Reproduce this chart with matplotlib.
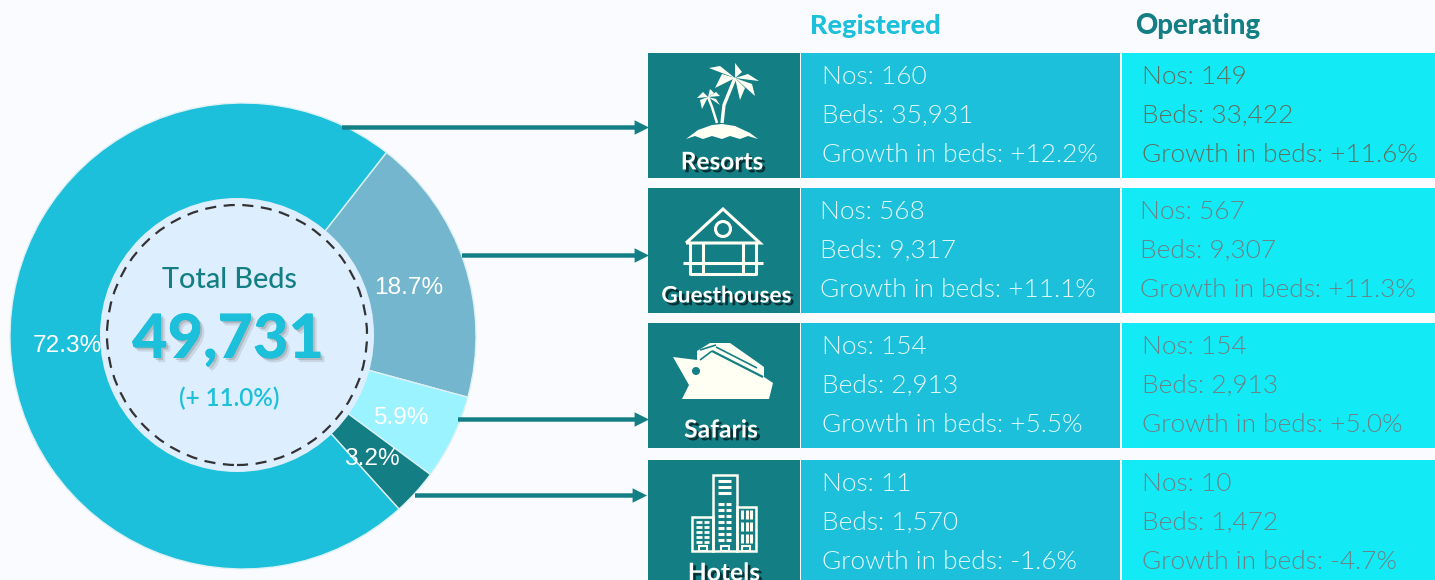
import numpy as np
import matplotlib
matplotlib.use("Agg")
import matplotlib.pyplot as plt
import matplotlib.patheffects as pe
from matplotlib.patches import Circle, Polygon, Rectangle, FancyArrowPatch

# Data
categories = ["Resorts", "Guesthouses", "Safaris", "Hotels"]
share_order = ["Guesthouses", "Safaris", "Hotels", "Resorts"]
share_values = [18.7, 5.9, 3.2, 72.3]
share_labels = ["18.7%", "5.9%", "3.2%", "72.3%"]
share_colors = ["#74b6cd", "#9bf3ff", "#137f85", "#1cc0da"]

reg_nos = ["160", "568", "154", "11"]
reg_beds = ["35,931", "9,317", "2,913", "1,570"]
reg_growth = ["+12.2%", "+11.1%", "+5.5%", "-1.6%"]
op_nos = ["149", "567", "154", "10"]
op_beds = ["33,422", "9,307", "2,913", "1,472"]
op_growth = ["+11.6%", "+11.3%", "+5.0%", "-4.7%"]

TEAL = "#137f85"
CYAN = "#1cc0da"
BRIGHT = "#12ebf6"
BG = "#fafbff"
CREAM = "#fffff4"
H = 580

plt.rcParams["font.family"] = ["Lato", "DejaVu Sans"]

fig = plt.figure(figsize=(14.35, 5.8), dpi=100, facecolor=BG)
ax = fig.add_axes([0, 0, 1, 1])


# everything below is placed in picture pixels, y measured from the top
def Y(y):
    return H - y


def poly(pts, **kw):
    kw.setdefault("fc", CREAM)
    kw.setdefault("ec", "none")
    kw.setdefault("zorder", 5)
    ax.add_patch(Polygon([(a, Y(b)) for a, b in pts], closed=True, **kw))


def line(pts, lw=2.2, color=CREAM, zorder=5):
    ax.plot([a for a, b in pts], [Y(b) for a, b in pts], color=color, lw=lw,
            solid_capstyle="butt", solid_joinstyle="miter", zorder=zorder)


def box(x0, y0, x1, y1, color):
    ax.add_patch(Rectangle((x0, Y(y1)), x1 - x0, y1 - y0, fc=color, ec="none", zorder=1))


# Donut
cx, cy, radius = 243, 336, 233
ax.pie(share_values, colors=share_colors, startangle=52, counterclock=False,
       center=(cx, Y(cy)), radius=radius,
       wedgeprops=dict(edgecolor="#dcf1f6", linewidth=1.0))
ax.set_xlim(0, 1435)
ax.set_ylim(0, H)
ax.set_aspect("auto")
ax.axis("off")

ax.add_patch(Circle((237, Y(335)), 137, fc="#ddeeff", ec="none", zorder=3))
ax.add_patch(Circle((237, Y(335)), 130, fc="none", ec="#333333", lw=1.6,
                    ls=(0, (5, 3.4)), zorder=4))

label_pos = [(409, 288), (401, 418), (372, 459), (67, 346)]
for lab, (lx, ly) in zip(share_labels, label_pos):
    ax.text(lx, Y(ly), lab, color="white", fontsize=17.6, family="Liberation Sans",
            ha="center", va="center", zorder=6)

ax.text(230, Y(280), "Total Beds", color=TEAL, fontsize=20.8, family="Lato", weight="medium",
        ha="center", va="center", zorder=6)
ax.text(228, Y(340), "49,731", color=CYAN, fontsize=44, family="Lato", weight="black",
        ha="center", va="center", zorder=6,
        path_effects=[pe.withSimplePatchShadow(offset=(3, -3), shadow_rgbFace="#888888", alpha=0.22),
                      pe.withSimplePatchShadow(offset=(1.5, -1.5), shadow_rgbFace="#777777", alpha=0.3)])
ax.text(229, Y(398), "(+ 11.0%)", color=CYAN, fontsize=17.5, family="Lato", weight="semibold",
        ha="center", va="center", zorder=6)

# Headers
ax.text(875, Y(26), "Registered", color=CYAN, fontsize=19.5, weight="black",
        ha="center", va="center")
ax.text(1198, Y(26), "Operating", color=TEAL, fontsize=19.8, weight="black",
        ha="center", va="center")

# Rows
row_tops = [53, 188, 323, 460]
row_bottoms = [178, 313, 448, 590]
reg_x = [821.5, 819.5, 821.5, 821.5]
op_x = [1142.5, 1140.5, 1142.5, 1142.5]
op_colors = ["#5f6f5e", "#6b8287", "#6b8287", "#6b8287"]
name_sizes = [17.6, 16.3, 17.8, 17.7]
name_xs = [722, 726.5, 721, 724]
name_ys = [162, 296, 430, 573]
for i, cat in enumerate(categories):
    top, bot = row_tops[i], row_bottoms[i]
    box(648, top, 800, bot, TEAL)
    box(801, top, 1120, bot, CYAN)
    box(1122, top, 1435, bot, BRIGHT)
    for k, (lab, a, b) in enumerate([("Nos: ", reg_nos, op_nos), ("Beds: ", reg_beds, op_beds),
                                     ("Growth in beds: ", reg_growth, op_growth)]):
        yy = Y(top + 24 + 39 * k)
        ax.text(reg_x[i], yy, lab + a[i], color="#e4f8fb", fontsize=18.95, weight=300,
                ha="left", va="center", zorder=4)
        ax.text(op_x[i], yy, lab + b[i], color=op_colors[i], fontsize=18.95, weight=300,
                ha="left", va="center", zorder=4)
    ax.text(name_xs[i], Y(name_ys[i]), cat, color="white", fontsize=name_sizes[i], weight="bold",
            ha="center", va="center", zorder=6,
            path_effects=[pe.withSimplePatchShadow(offset=(2, -2), shadow_rgbFace="black", alpha=0.6)])

# Arrows from the donut to the rows
for x0, x1, ay in [(342, 649, 127.5), (462, 649, 255.5), (458, 649, 419.5), (415, 647, 495.5)]:
    ax.add_patch(FancyArrowPatch((x0, Y(ay)), (x1, Y(ay)), arrowstyle="-|>", mutation_scale=13,
                                 color=TEAL, lw=3.2, shrinkA=0, shrinkB=0, capstyle="butt",
                                 joinstyle="miter", zorder=7))

# Resort icon: island with two palms
poly([(686, 139), (698, 130), (712, 125), (722, 124), (735, 126), (750, 133), (758, 139),
      (748, 136), (740, 139), (730, 136), (722, 139), (712, 136), (703, 139), (695, 136)])
line([(722, 123), (724, 105), (735, 78)], 2.4)
line([(717, 123), (712, 107), (708, 97)], 1.8)
for pts in [[(735, 78), (709, 68), (720, 66)], [(735, 78), (715, 88), (722, 74)],
            [(735, 78), (735, 63), (742, 72)], [(735, 78), (759, 81), (748, 74)],
            [(735, 78), (755, 96), (752, 84)], [(735, 78), (740, 100), (745, 88)]]:
    poly(pts)
for pts in [[(708, 97), (697, 98), (703, 92)], [(708, 97), (702, 109), (700, 100)],
            [(708, 97), (710, 89), (714, 93)], [(708, 97), (720, 96), (716, 92)],
            [(708, 97), (720, 105), (716, 99)]]:
    poly(pts)

# Guesthouse icon: hut on stilts
line([(686, 243), (723, 209), (760, 243), (686, 243)])
ax.add_patch(Circle((723, Y(229)), 7.5, fc="none", ec=CREAM, lw=2.2, zorder=5))
line([(690, 243), (690, 275)])
line([(703, 243), (703, 275)])
line([(743, 243), (743, 275)])
line([(756, 243), (756, 275)])
line([(683, 263), (763, 263)])
line([(690, 274), (756, 274)])

# Safari icon: cruise ship
poly([(673, 357), (697, 360), (697, 351), (710, 343), (730, 343), (757, 362), (764, 367),
      (764, 377), (773, 383), (769, 399), (682, 399), (689, 385)])
line([(712, 351), (763, 377)], 1.6, TEAL, 6)
line([(716, 347), (757, 368)], 1.2, TEAL, 6)
line([(700, 350), (716, 345)], 1.2, TEAL, 6)
line([(700, 360), (712, 351)], 1.2, TEAL, 6)
ax.add_patch(Circle((696, Y(371)), 4, fc=TEAL, ec="none", zorder=6))

# Hotel icon: three towers
for x0, y0, x1, y1 in [(692, 517, 713, 551), (713, 475, 737, 551), (737, 507, 756, 551)]:
    ax.add_patch(Rectangle((x0, Y(y1)), x1 - x0, y1 - y0, fc="none", ec=CREAM, lw=1.8, zorder=5))
for wy in range(481, 498, 6):
    line([(718, wy), (731, wy)], 2.2)
for wy in range(504, 542, 6):
    line([(718, wy), (723.5, wy)], 2.2)
    line([(725.5, wy), (731, wy)], 2.2)
for wy in range(522, 546, 5):
    line([(696, wy), (701.5, wy)], 2)
    line([(703.5, wy), (709, wy)], 2)
for wy in [514, 526, 538]:
    for wx in [742, 746.5, 751]:
        line([(wx, wy - 4.5), (wx, wy + 4.5)], 2.2)
for dx in [699, 721, 742]:
    ax.add_patch(Rectangle((dx, Y(551)), 8, 5, fc="none", ec=CREAM, lw=1.5, zorder=5))

fig.savefig("out.png", dpi=100, facecolor=BG)
